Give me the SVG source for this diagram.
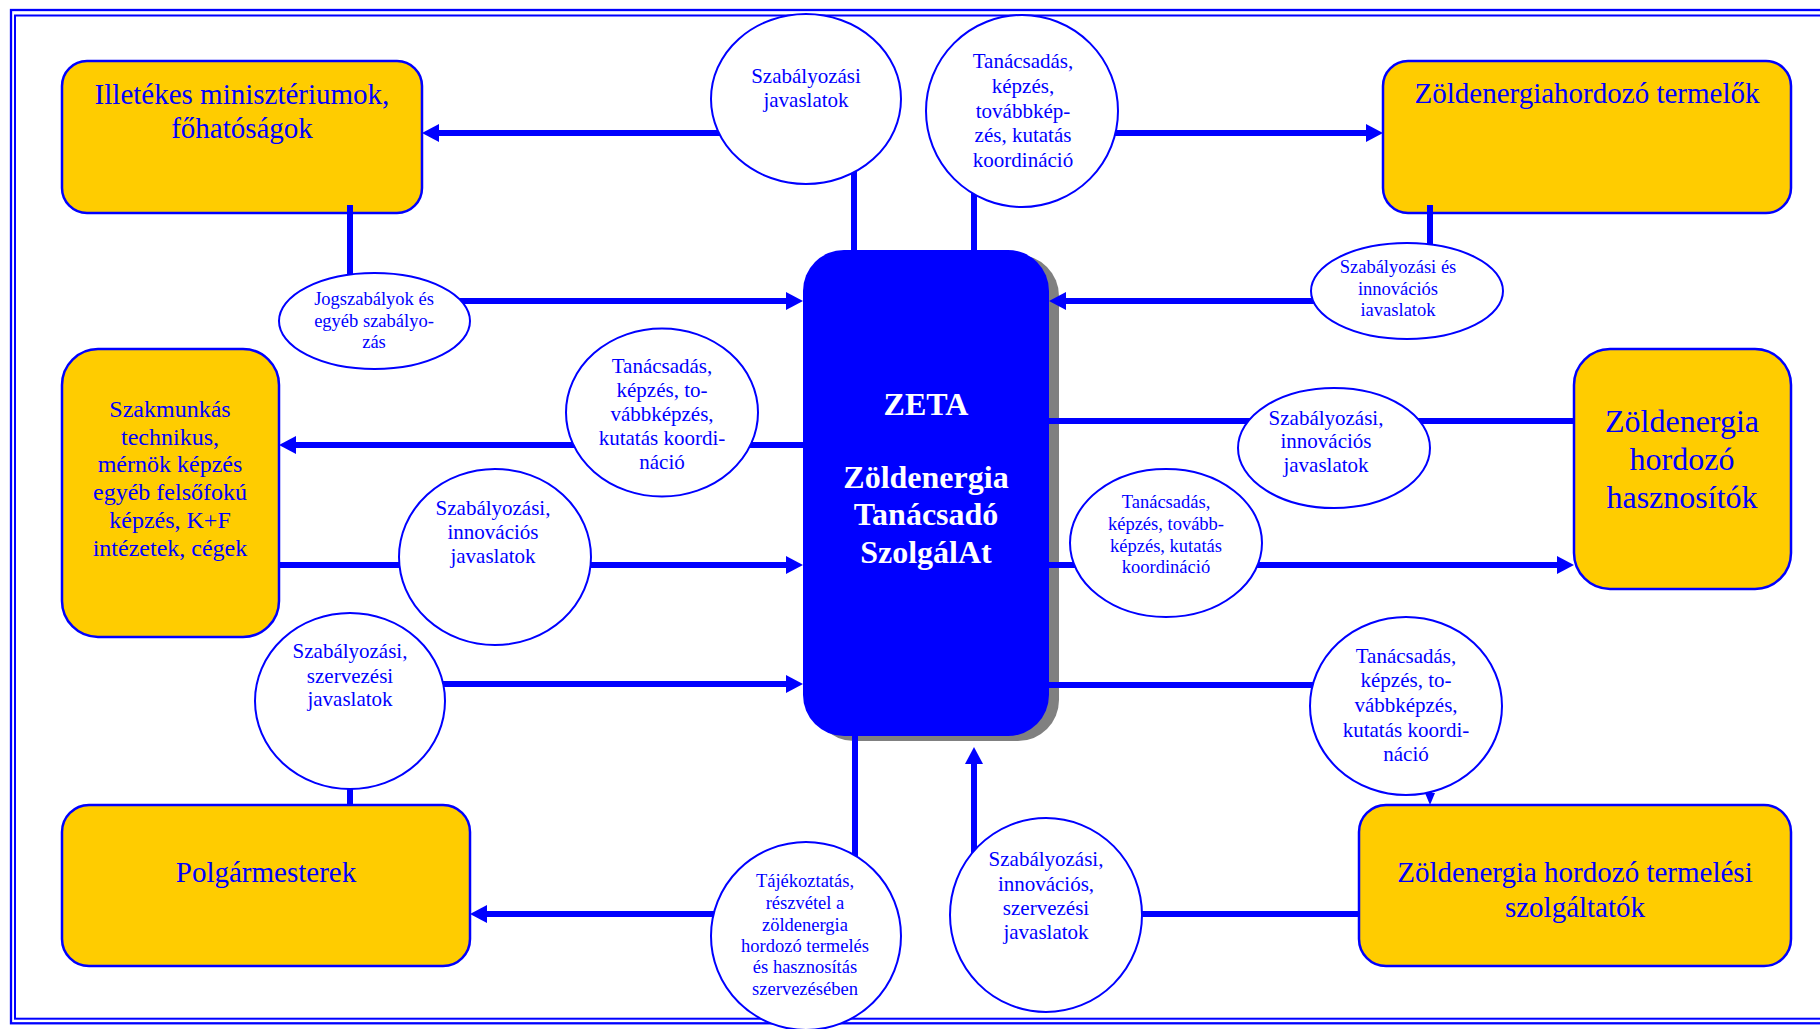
<svg xmlns="http://www.w3.org/2000/svg" width="1820" height="1029" viewBox="0 0 1820 1029">
<style>
.frame{fill:none;stroke:#0000FF}
.box{fill:#FFCC00;stroke:#0000FF;stroke-width:2.5}
.zeta{fill:#0000FF}
.shadow{fill:#808080}
.ell{fill:#FFFFFF;stroke:#0000FF;stroke-width:2}
.c{stroke:#0000FF;stroke-width:6;fill:none}
.cs{stroke:#0000FF;stroke-width:3;fill:none}
text{font-family:"Liberation Serif","Times New Roman",serif;fill:#0000FF;text-anchor:middle}
.s29{font-size:29px}
.s24{font-size:24px}
.s32{font-size:32px}
.s21{font-size:21px}
.s18{font-size:18.5px}
.zt{font-size:32px;font-weight:bold;fill:#FFFFFF}
</style>
<defs>
<marker id="ah" viewBox="0 0 17 18" refX="0" refY="9" markerWidth="17" markerHeight="18" markerUnits="userSpaceOnUse" orient="auto">
<path d="M0,0 L17,9 L0,18 Z" fill="#0000FF"/>
</marker>
<marker id="ahs" viewBox="0 0 12 10" refX="0" refY="5" markerWidth="12" markerHeight="10" markerUnits="userSpaceOnUse" orient="auto">
<path d="M0,0 L12,5 L0,10 Z" fill="#0000FF"/>
</marker>
</defs>
<rect width="1820" height="1029" fill="#FFFFFF"/>
<g id="frame">
<rect class="frame" x="11" y="10" width="1830" height="1013.3" stroke-width="2.3"/>
<rect class="frame" x="15" y="15.5" width="1820" height="1003.2" stroke-width="2"/>
</g>

<g id="node-illetekes">
<rect class="box" x="62" y="61" width="360" height="152" rx="25" ry="25"/>
<text class="s29" x="242" y="104">Illetékes minisztériumok,</text>
<text class="s29" x="242" y="138">főhatóságok</text>
</g>
<g id="node-termelok">
<rect class="box" x="1383" y="61" width="408" height="152" rx="25" ry="25"/>
<text class="s29" x="1587" y="103">Zöldenergiahordozó termelők</text>
</g>
<g id="node-szakmunkas">
<rect class="box" x="62" y="349" width="217" height="288" rx="36" ry="36"/>
<text class="s24" x="170" y="417">Szakmunkás</text>
<text class="s24" x="170" y="445">technikus,</text>
<text class="s24" x="170" y="472">mérnök képzés</text>
<text class="s24" x="170" y="500">egyéb felsőfokú</text>
<text class="s24" x="170" y="528">képzés, K+F</text>
<text class="s24" x="170" y="556">intézetek, cégek</text>
</g>
<g id="node-hasznositok">
<rect class="box" x="1574" y="349" width="217" height="240" rx="36" ry="36"/>
<text class="s32" x="1682" y="432">Zöldenergia</text>
<text class="s32" x="1682" y="470">hordozó</text>
<text class="s32" x="1682" y="508">hasznosítók</text>
</g>
<g id="node-polgarmesterek">
<rect class="box" x="62" y="805" width="408" height="161" rx="27" ry="27"/>
<text class="s29" x="266" y="882">Polgármesterek</text>
</g>
<g id="node-szolgaltatok">
<rect class="box" x="1359" y="805" width="432" height="161" rx="27" ry="27"/>
<text class="s29" x="1575" y="882">Zöldenergia hordozó termelési</text>
<text class="s29" x="1575" y="917">szolgáltatók</text>
</g>
<g id="node-zeta">
<rect class="shadow" x="813" y="255" width="246" height="486" rx="41" ry="41"/>
<rect class="zeta" x="803" y="250" width="246" height="486" rx="41" ry="41"/>
<text class="zt" x="926" y="415">ZETA</text>
<text class="zt" x="926" y="488">Zöldenergia</text>
<text class="zt" x="926" y="525">Tanácsadó</text>
<text class="zt" x="926" y="563">SzolgálAt</text>
</g>

<g id="connectors">
<line class="c" x1="806" y1="133" x2="439" y2="133" marker-end="url(#ah)"/>
<line class="c" x1="854" y1="150" x2="854" y2="252"/>
<line class="c" x1="1022" y1="133" x2="1366" y2="133" marker-end="url(#ah)"/>
<line class="c" x1="974" y1="150" x2="974" y2="252"/>
<line class="c" x1="350" y1="205" x2="350" y2="300"/>
<line class="c" x1="374" y1="301" x2="786" y2="301" marker-end="url(#ah)"/>
<line class="c" x1="1430" y1="205" x2="1430" y2="280"/>
<line class="c" x1="1407" y1="301" x2="1066" y2="301" marker-end="url(#ah)"/>
<line class="c" x1="805" y1="445" x2="296" y2="445" marker-end="url(#ah)"/>
<line class="c" x1="279" y1="565" x2="786" y2="565" marker-end="url(#ah)"/>
<line class="c" x1="350" y1="684" x2="786" y2="684" marker-end="url(#ah)"/>
<line class="c" x1="350" y1="700" x2="350" y2="806"/>
<line class="c" x1="1047" y1="421" x2="1574" y2="421"/>
<line class="c" x1="1047" y1="565" x2="1557" y2="565" marker-end="url(#ah)"/>
<line class="c" x1="1047" y1="685" x2="1406" y2="685"/>
<line class="cs" x1="1430" y1="720" x2="1430" y2="793" marker-end="url(#ahs)"/>
<line class="c" x1="855" y1="736" x2="855" y2="900"/>
<line class="c" x1="806" y1="914" x2="487" y2="914" marker-end="url(#ah)"/>
<line class="c" x1="974" y1="900" x2="974" y2="764" marker-end="url(#ah)"/>
<line class="c" x1="1046" y1="914" x2="1359" y2="914"/>
</g>

<g id="node-e1">
<ellipse class="ell" cx="806" cy="99" rx="95" ry="85"/>
<text class="s21" x="806" y="83">Szabályozási</text>
<text class="s21" x="806" y="107">javaslatok</text>
</g>
<g id="node-e2">
<ellipse class="ell" cx="1022" cy="111" rx="96" ry="96"/>
<text class="s21" x="1023" y="68">Tanácsadás,</text>
<text class="s21" x="1023" y="93">képzés,</text>
<text class="s21" x="1023" y="118">továbbkép-</text>
<text class="s21" x="1023" y="142">zés, kutatás</text>
<text class="s21" x="1023" y="167">koordináció</text>
</g>
<g id="node-e3">
<ellipse class="ell" cx="374.5" cy="321" rx="95.5" ry="48"/>
<text class="s18" x="374" y="305">Jogszabályok és</text>
<text class="s18" x="374" y="327">egyéb szabályo-</text>
<text class="s18" x="374" y="348">zás</text>
</g>
<g id="node-e4">
<ellipse class="ell" cx="1407" cy="291" rx="96" ry="48"/>
<text class="s18" x="1398" y="273">Szabályozási és</text>
<text class="s18" x="1398" y="295">innovációs</text>
<text class="s18" x="1398" y="316">iavaslatok</text>
</g>
<g id="node-e5">
<ellipse class="ell" cx="662" cy="412.5" rx="96" ry="84"/>
<text class="s21" x="662" y="373">Tanácsadás,</text>
<text class="s21" x="662" y="397">képzés, to-</text>
<text class="s21" x="662" y="421">vábbképzés,</text>
<text class="s21" x="662" y="445">kutatás koordi-</text>
<text class="s21" x="662" y="469">náció</text>
</g>
<g id="node-e6">
<ellipse class="ell" cx="495" cy="557" rx="96" ry="88"/>
<text class="s21" x="493" y="515">Szabályozási,</text>
<text class="s21" x="493" y="539">innovációs</text>
<text class="s21" x="493" y="563">javaslatok</text>
</g>
<g id="node-e7">
<ellipse class="ell" cx="350" cy="701" rx="95" ry="88"/>
<text class="s21" x="350" y="658">Szabályozási,</text>
<text class="s21" x="350" y="683">szervezési</text>
<text class="s21" x="350" y="706">javaslatok</text>
</g>
<g id="node-e8">
<ellipse class="ell" cx="1334" cy="448" rx="96" ry="60"/>
<text class="s21" x="1326" y="425">Szabályozási,</text>
<text class="s21" x="1326" y="448">innovációs</text>
<text class="s21" x="1326" y="472">javaslatok</text>
</g>
<g id="node-e9">
<ellipse class="ell" cx="1166" cy="543" rx="96" ry="74"/>
<text class="s18" x="1166" y="508">Tanácsadás,</text>
<text class="s18" x="1166" y="530">képzés, tovább-</text>
<text class="s18" x="1166" y="552">képzés, kutatás</text>
<text class="s18" x="1166" y="573">koordináció</text>
</g>
<g id="node-e10">
<ellipse class="ell" cx="1406" cy="706" rx="96" ry="89"/>
<text class="s21" x="1406" y="663">Tanácsadás,</text>
<text class="s21" x="1406" y="687">képzés, to-</text>
<text class="s21" x="1406" y="712">vábbképzés,</text>
<text class="s21" x="1406" y="737">kutatás koordi-</text>
<text class="s21" x="1406" y="761">náció</text>
</g>
<g id="node-e11">
<ellipse class="ell" cx="1046" cy="915" rx="96" ry="97"/>
<text class="s21" x="1046" y="866">Szabályozási,</text>
<text class="s21" x="1046" y="891">innovációs,</text>
<text class="s21" x="1046" y="915">szervezési</text>
<text class="s21" x="1046" y="939">javaslatok</text>
</g>
<g id="node-e12">
<ellipse class="ell" cx="806" cy="936" rx="95" ry="94"/>
<text class="s18" x="805" y="887">Tájékoztatás,</text>
<text class="s18" x="805" y="909">részvétel a</text>
<text class="s18" x="805" y="931">zöldenergia</text>
<text class="s18" x="805" y="952">hordozó termelés</text>
<text class="s18" x="805" y="973">és hasznosítás</text>
<text class="s18" x="805" y="995">szervezésében</text>
</g>
</svg>
